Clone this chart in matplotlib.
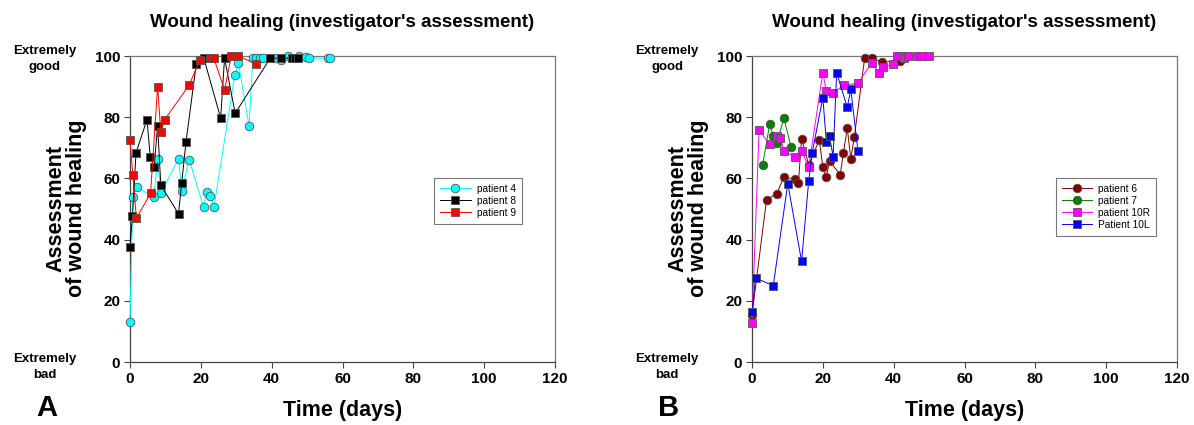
import matplotlib
matplotlib.use("Agg")
import matplotlib.pyplot as plt

plt.rcParams['font.family'] = ['Liberation Sans', 'DejaVu Sans']

W, H = 1194, 425

# panel A
days4 = [0, 0.8, 1.9, 6.7, 7.8, 8.7, 13.7, 14.6, 16.7, 20.8, 21.6, 22.6, 23.7, 29.6, 30.6, 33.6,
         34.7, 35.7, 36.6, 37.6, 41.0, 42.5, 44.6, 47.6, 49.7, 50.6, 55.9, 56.5]
vals4 = [13, 53.8, 57.2, 53.8, 66.2, 55.2, 66.4, 55.9, 66.1, 50.5, 55.6, 54.4, 50.5, 93.9, 97.8, 77.1,
         99.3, 99.3, 99.3, 99.3, 99.5, 98.7, 100, 100, 99.8, 99.3, 99.3, 99.3]
days8 = [0, 0.7, 1.7, 4.8, 5.7, 6.8, 7.8, 8.7, 13.7, 14.6, 15.8, 18.7, 20.8, 25.6, 26.7, 29.7,
         39.6, 42.5, 45.6, 46.5, 47.5]
vals8 = [37.6, 47.8, 68.4, 79.2, 67.1, 63.8, 77.2, 57.7, 48.5, 58.5, 71.8, 97.3, 99.5, 79.7, 99.3, 81.3,
         99.3, 99.3, 99.3, 99.3, 99.3]
days9 = [0, 0.8, 1.8, 5.8, 7.8, 8.7, 9.8, 16.7, 19.7, 22.6, 23.6, 26.7, 28.6, 30.6, 35.7]
vals9 = [72.5, 61.1, 47, 55.1, 90, 75.2, 79.2, 90.5, 98.6, 99.5, 99.5, 88.9, 100, 100, 97.3]

# panel B
days6 = [0, 4.1, 7.0, 9.0, 12.0, 13.1, 14.0, 16.0, 19.0, 20.0, 21.0, 21.9, 24.9, 25.8, 26.9, 27.9,
         28.9, 31.8, 33.8, 36.8, 41.7, 42.5]
vals6 = [15.4, 53, 55, 60.5, 59.7, 58.4, 73, 64.5, 72.5, 63.7, 60.5, 65.8, 61.1, 68.3, 76.4, 66.4,
         73.6, 99.2, 99.2, 98, 98.4, 99.2]
days7 = [3, 5, 6, 7, 9, 11]
vals7 = [64.4, 77.8, 73.9, 71.7, 79.7, 70.4]
days10R = [0, 2, 5, 7, 8, 9, 12, 14, 16, 20, 21, 22.9, 25.9, 29.9, 33.8, 35.8, 36.9, 39.8, 40.9,
           42.0, 43.0, 44.0, 46.5, 47.7, 49.9]
vals10R = [12.8, 75.8, 71.1, 73.9, 73.1, 69.1, 67.1, 69.1, 63.7, 94.5, 88.5, 87.8, 90.5, 91.1, 97.8,
           94.5, 96.5, 97.3, 100, 100, 99.2, 100, 100, 100, 100]
days10L = [0, 1, 6, 10.1, 14, 16, 17, 20, 21, 21.9, 22.9, 23.9, 26.9, 27.9, 29.9]
vals10L = [16.2, 27.5, 24.9, 58.3, 32.9, 59, 68.4, 86.4, 71.8, 73.8, 67.1, 94.5, 83.2, 89.1, 69.1]

xticks = [0, 20, 40, 60, 80, 100, 120]
yticks = [0, 20, 40, 60, 80, 100]

fig = plt.figure(figsize=(W / 100, H / 100), dpi=100)


def fx(px):
    return px / W


def fy(py):
    return 1 - py / H


def panel(x0, letter, series, legend_xy):
    ax = fig.add_axes([fx(x0), fy(362), 425 / W, 306 / H])
    for d, v, c, m, lab in series:
        ax.plot(d, v, color=c, lw=0.7, marker=m, ms=6.2, mfc=c, mec='#555555', mew=0.6,
                label=lab, clip_on=False, zorder=3)
    ax.set_xlim(0, 120)
    ax.set_ylim(0, 100)
    ax.set_xticks(xticks)
    ax.set_yticks(yticks)
    for lbl in ax.get_xticklabels() + ax.get_yticklabels():
        lbl.set_fontweight('bold')
        lbl.set_fontsize(11)
    ax.tick_params(direction='out', length=4, width=0.8, color='#444444', pad=3)
    for s in ['left', 'bottom']:
        ax.spines[s].set_color('#444444')
        ax.spines[s].set_linewidth(0.9)
    for s in ['top', 'right']:
        ax.spines[s].set_color('#777777')
        ax.spines[s].set_linewidth(0.9)
    ax.set_xlabel('Time (days)', fontsize=15.5, fontweight='bold', labelpad=10)
    ax.set_title("Wound healing (investigator's assessment)", fontsize=13.5, fontweight='bold', pad=21)
    leg = ax.legend(loc='center', bbox_to_anchor=(fx(legend_xy[0]), fy(legend_xy[1])),
                    bbox_transform=fig.transFigure, fontsize=7.3, frameon=True, fancybox=False,
                    edgecolor='#777777', framealpha=1, handlelength=3, borderpad=0.6,
                    labelspacing=0.2, handletextpad=0.6)
    leg.get_frame().set_linewidth(0.8)
    fig.text(fx(x0 - 64), fy(208), 'Assessment\nof wound healing', rotation=90, ha='center',
             va='center', multialignment='center', fontsize=15.5, fontweight='bold', linespacing=1.0)
    fig.text(fx(x0 - 85), fy(59), 'Extremely\ngood', ha='center', va='center', fontsize=9.5,
             fontweight='bold', linespacing=1.5)
    fig.text(fx(x0 - 85), fy(367), 'Extremely\nbad', ha='center', va='center', fontsize=9.5,
             fontweight='bold', linespacing=1.5)
    fig.text(fx(x0 - 83), fy(408), letter, ha='center', va='center', fontsize=21, fontweight='bold')
    return ax


panel(130, 'A', [
    (days4, vals4, '#00ffff', 'o', 'patient 4'),
    (days8, vals8, '#000000', 's', 'patient 8'),
    (days9, vals9, '#ff0000', 's', 'patient 9'),
], (478, 201))

panel(752, 'B', [
    (days6, vals6, '#800000', 'o', 'patient 6'),
    (days7, vals7, '#008000', 'o', 'patient 7'),
    (days10R, vals10R, '#ff00ff', 's', 'patient 10R'),
    (days10L, vals10L, '#0000ff', 's', 'Patient 10L'),
], (1106, 207))

fig.savefig('out.png', dpi=100)
